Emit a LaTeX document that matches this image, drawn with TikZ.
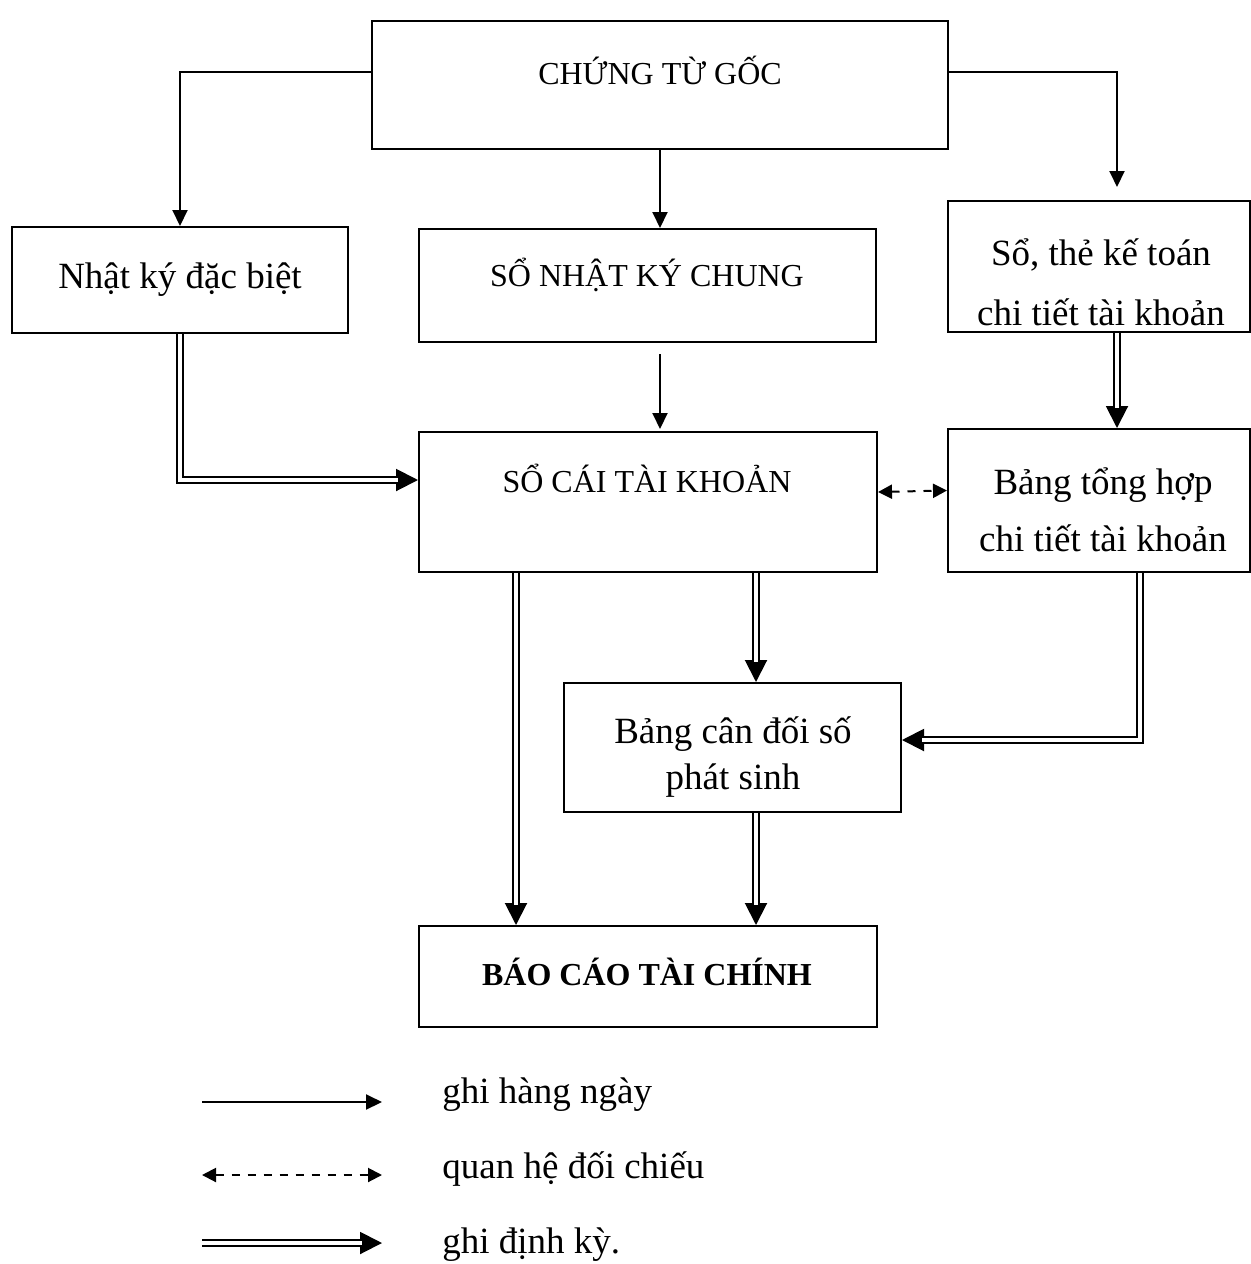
\documentclass[tikz,border=0pt]{standalone}
\usepackage{fontspec}
\setmainfont{Liberation Serif}
\usetikzlibrary{arrows.meta,calc}
\begin{document}
\begin{tikzpicture}[x=0.5pt,y=-0.5pt,
  box/.style={draw,line width=1pt,inner sep=0pt},
  big/.style={font=\fontsize{18.5}{30}\selectfont,align=center,inner sep=0pt},
  caps/.style={font=\fontsize{16}{20}\selectfont,inner sep=0pt},
  legtext/.style={font=\fontsize{18.5}{22}\selectfont,anchor=base west,inner sep=0pt},
  thinarr/.style={line width=1pt,-{Triangle[length=8pt,width=7.5pt]}},
  dasharr/.style={line width=1pt,dash pattern=on 4pt off 4pt,{Triangle[length=7pt,width=7pt]}-{Triangle[length=7pt,width=7pt]}},
  dtip/.style={line width=1pt,-{Triangle[length=11pt,width=11pt]}},
  dline/.style={line width=1pt,double=white,double distance=2pt}
]
\useasboundingbox (0,0) rectangle (1251,1264);

% boxes
\node[box,minimum width=288pt,minimum height=64pt] (ctg) at (660,85) {};
\node[caps] (ctgt) at (660,70) {CHỨNG TỪ GỐC};
\node[box,big,minimum width=168pt,minimum height=53pt] (nkdb) at (180,280) {Nhật ký đặc biệt};
\node[box,minimum width=228.5pt,minimum height=56.5pt] (snkc) at (647.5,285.5) {};
\node[caps] (snkct) at (647,275) {SỔ NHẬT KÝ CHUNG};
\node[box,minimum width=151pt,minimum height=65.5pt] (sothe) at (1099,266.5) {};
\node[big] (sothet) at (1101,282) {Sổ, thẻ kế toán\\chi tiết tài khoản};
\node[box,minimum width=229pt,minimum height=70pt] (scai) at (648,502) {};
\node[caps] (scait) at (647,478) {SỔ CÁI TÀI KHOẢN};
\node[box,minimum width=151pt,minimum height=71.5pt] (bth) at (1099,500.5) {};
\node[big,font=\fontsize{18.5}{28.5}\selectfont] (btht) at (1103,510) {Bảng tổng hợp\\chi tiết tài khoản};
\node[box,minimum width=168.5pt,minimum height=64.5pt] (bcd) at (732.5,747.5) {};
\node[big,font=\fontsize{18.5}{23}\selectfont] (bcdt) at (733,757) {Bảng cân đối số\\phát sinh};
\node[box,minimum width=229pt,minimum height=50.5pt] (bctc) at (648,976.5) {};
\node[caps,font=\fontsize{16}{20}\bfseries\selectfont] (bctct) at (647,972) {BÁO CÁO TÀI CHÍNH};

% daily (single) arrows
\draw[thinarr] ([yshift=6.5pt]ctg.west) -| (nkdb.north);
\draw[thinarr,shorten >=6.5pt] ([yshift=6.5pt]ctg.east) -| ([xshift=9pt]sothe.north);
\draw[thinarr] ([xshift=6.25pt]snkc.north |- ctg.south) -- ([xshift=6.25pt]snkc.north);
\draw[thinarr,shorten <=5.5pt,shorten >=1pt] ([xshift=6.25pt]snkc.south) -- ([xshift=6pt]scai.north);

% cross-check
\draw[dasharr] ([yshift=5pt]scai.east) -- ([yshift=5pt]bth.west);

% periodic (double) arrows: tip line first, then the double line on top
\coordinate (c1) at (nkdb.south |- 0,480);
\draw[dtip] (c1) -- (c1 -| scai.west);
\draw[dline,shorten >=10pt] (nkdb.south) -- (c1) -- (c1 -| scai.west);

\coordinate (s1) at ([xshift=9pt]sothe.south);
\draw[dtip] (s1) -- ([xshift=9pt]bth.north);
\draw[dline,shorten >=10pt] (s1) -- ([xshift=9pt]bth.north);

\coordinate (a1) at ([xshift=-66pt]scai.south);
\draw[dtip] (a1) -- (a1 |- bctc.north);
\draw[dline,shorten >=10pt] (a1) -- (a1 |- bctc.north);

\coordinate (a2) at ([xshift=54pt]scai.south);
\draw[dtip] (a2) -- (a2 |- bcd.north);
\draw[dline,shorten >=10pt] (a2) -- (a2 |- bcd.north);

\coordinate (a3) at (a2 |- bcd.south);
\draw[dtip] (a3) -- (a3 |- bctc.north);
\draw[dline,shorten >=10pt] (a3) -- (a3 |- bctc.north);

\coordinate (b1) at ([xshift=20.5pt]bth.south);
\coordinate (b2) at (b1 |- 0,740);
\draw[dtip] (b2) -- (b2 -| bcd.east);
\draw[dline,shorten >=10pt] (b1) -- (b2) -- (b2 -| bcd.east);

% legend
\coordinate (l1a) at (202,1102); \coordinate (l1b) at (382,1102);
\draw[thinarr] (l1a) -- (l1b);
\node[legtext] (lg1) at (442,1103) {ghi hàng ngày};
\coordinate (l2a) at (202,1175); \coordinate (l2b) at (382,1175);
\draw[dasharr] (l2a) -- (l2b);
\node[legtext] (lg2) at (442,1178) {quan hệ đối chiếu};
\coordinate (l3a) at (202,1243); \coordinate (l3b) at (382,1243);
\draw[dtip] (l3a) -- (l3b);
\draw[dline,shorten >=10pt] (l3a) -- (l3b);
\node[legtext] (lg3) at (442,1253) {ghi định kỳ.};
\end{tikzpicture}
\end{document}
